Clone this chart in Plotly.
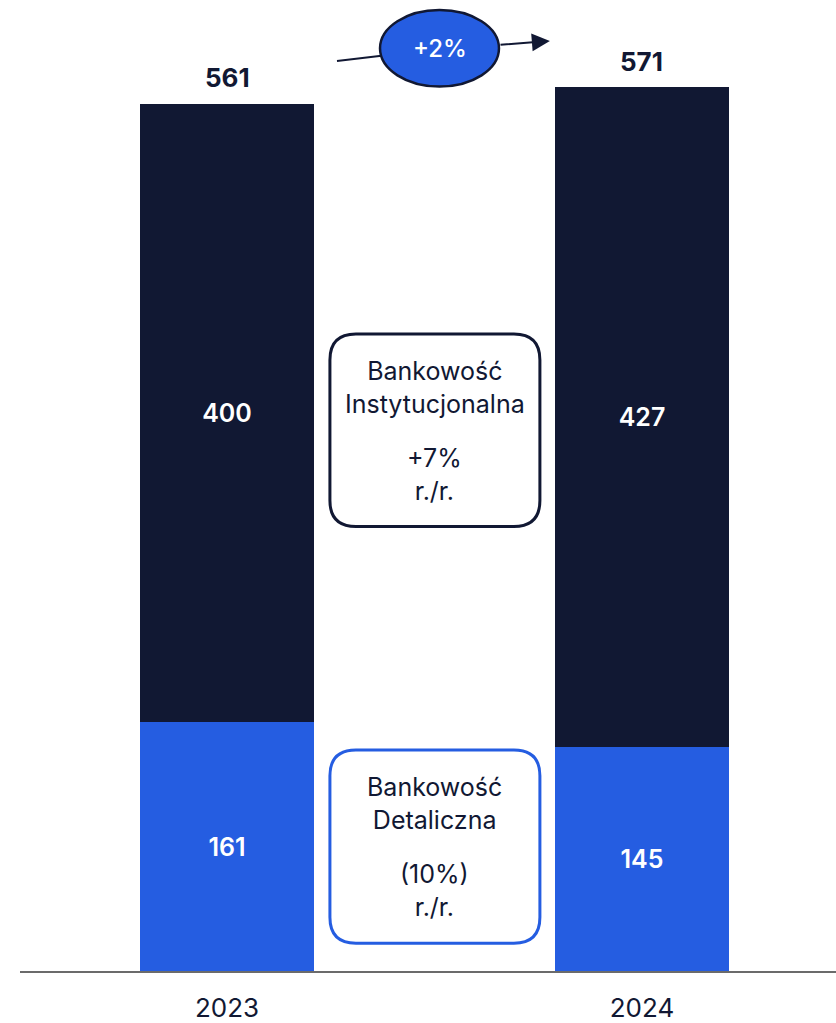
import plotly.graph_objects as go

# Segment values per year
years = ["2023", "2024"]
retail = [161, 145]          # Bankowość Detaliczna
institutional = [400, 427]   # Bankowość Instytucjonalna
totals = [561, 571]
growth_total = "+2%"
box_inst_title = ["Bankowość", "Instytucjonalna"]
box_inst_growth = ["+7%", "r./r."]
box_retail_title = ["Bankowość", "Detaliczna"]
box_retail_growth = ["(10%)", "r./r."]

NAVY = "#111833"
BLUE = "#255de1"
FONT = "Inter, Lato, sans-serif"

W, H = 836, 1023
M_L, M_R, M_T, M_B = 20, 0, 0, 49
Y_MAX = 628
X_RANGE = [-0.4988, 1.4675]

xs = [0, 1]

fig = go.Figure()
fig.add_trace(go.Bar(
    x=xs, y=retail, width=0.417, marker=dict(color=BLUE, line=dict(width=0)),
    text=[str(v) for v in retail], textposition="inside", insidetextanchor="middle",
    textfont=dict(color="white", size=25, family=FONT, weight=600),
    hoverinfo="skip", showlegend=False,
))
fig.add_trace(go.Bar(
    x=xs, y=institutional, width=0.417, marker=dict(color=NAVY, line=dict(width=0)),
    text=[str(v) for v in institutional], textposition="inside", insidetextanchor="middle",
    textfont=dict(color="white", size=25, family=FONT, weight=600),
    hoverinfo="skip", showlegend=False,
))

annotations = []
for x, t in zip(xs, totals):
    annotations.append(dict(
        x=x, y=t, xref="x", yref="y", text=str(t), showarrow=False,
        yanchor="bottom", yshift=9,
        font=dict(color=NAVY, size=26, family=FONT, weight=700),
    ))

# helpers to size things in pixels within data space
plot_w = W - M_L - M_R
plot_h = H - M_T - M_B
px_x = (X_RANGE[1] - X_RANGE[0]) / plot_w
px_y = Y_MAX / plot_h


def rounded_rect(x0, x1, y0, y1, r_px):
    rx, ry = r_px * px_x, r_px * px_y
    return (
        f"M {x0 + rx},{y1} L {x1 - rx},{y1} Q {x1},{y1} {x1},{y1 - ry} "
        f"L {x1},{y0 + ry} Q {x1},{y0} {x1 - rx},{y0} "
        f"L {x0 + rx},{y0} Q {x0},{y0} {x0},{y0 + ry} "
        f"L {x0},{y1 - ry} Q {x0},{y1} {x0 + rx},{y1} Z"
    )


shapes = []
box_x0, box_x1 = 0.248, 0.754
boxes = [
    (box_inst_title, box_inst_growth, 287.5, 412.0, NAVY),
    (box_retail_title, box_retail_growth, 18.0, 143.0, BLUE),
]
for title, growth, y0, y1, col in boxes:
    shapes.append(dict(
        type="path", xref="x", yref="y",
        path=rounded_rect(box_x0, box_x1, y0, y1, 26),
        line=dict(color=col, width=3), fillcolor="white", layer="above",
    ))
    for lines, offset_px in ((title, 54), (growth, 141)):
        annotations.append(dict(
            x=(box_x0 + box_x1) / 2, y=y1 - offset_px * px_y, xref="x", yref="y",
            text="<br>".join(lines), showarrow=False, align="center",
            font=dict(color=NAVY, size=25, family=FONT),
        ))

# growth arrow passing behind the ellipse
tail = (0.265, 588.6)
ell_x0, ell_x1 = 0.3687, 0.6554
ell_y0, ell_y1 = 572.0, 621.5
shapes.append(dict(
    type="line", xref="x", yref="y", x0=tail[0], y0=tail[1],
    x1=0.50, y1=596.0, line=dict(color=NAVY, width=2), layer="above",
))
shapes.append(dict(
    type="circle", xref="x", yref="y", x0=ell_x0, x1=ell_x1, y0=ell_y0, y1=ell_y1,
    fillcolor=BLUE, line=dict(color=NAVY, width=2.5), layer="above",
))
annotations.append(dict(
    x=0.778, y=601.5, ax=ell_x1, ay=598.9, xref="x", yref="y", axref="x", ayref="y",
    showarrow=True, arrowhead=2, arrowsize=1.8, arrowwidth=2, arrowcolor=NAVY, text="",
))
annotations.append(dict(
    x=(ell_x0 + ell_x1) / 2, y=(ell_y0 + ell_y1) / 2, xref="x", yref="y",
    text=growth_total, showarrow=False,
    font=dict(color="white", size=24, family=FONT, weight=500),
))

fig.update_layout(
    width=W, height=H,
    margin=dict(l=M_L, r=M_R, t=M_T, b=M_B),
    barmode="stack", bargap=0,
    plot_bgcolor="white", paper_bgcolor="white",
    shapes=shapes, annotations=annotations,
    font=dict(family=FONT, color=NAVY),
)
fig.update_xaxes(
    range=X_RANGE, tickvals=xs, ticktext=years,
    showline=True, linecolor="#6b6b6b", linewidth=2,
    showgrid=False, zeroline=False,
    ticks="outside", ticklen=13, tickcolor="rgba(0,0,0,0)",
    tickfont=dict(size=26, color=NAVY, family=FONT),
)
fig.update_yaxes(range=[0, Y_MAX], visible=False, showgrid=False, zeroline=False)

fig.write_html("out.html")
